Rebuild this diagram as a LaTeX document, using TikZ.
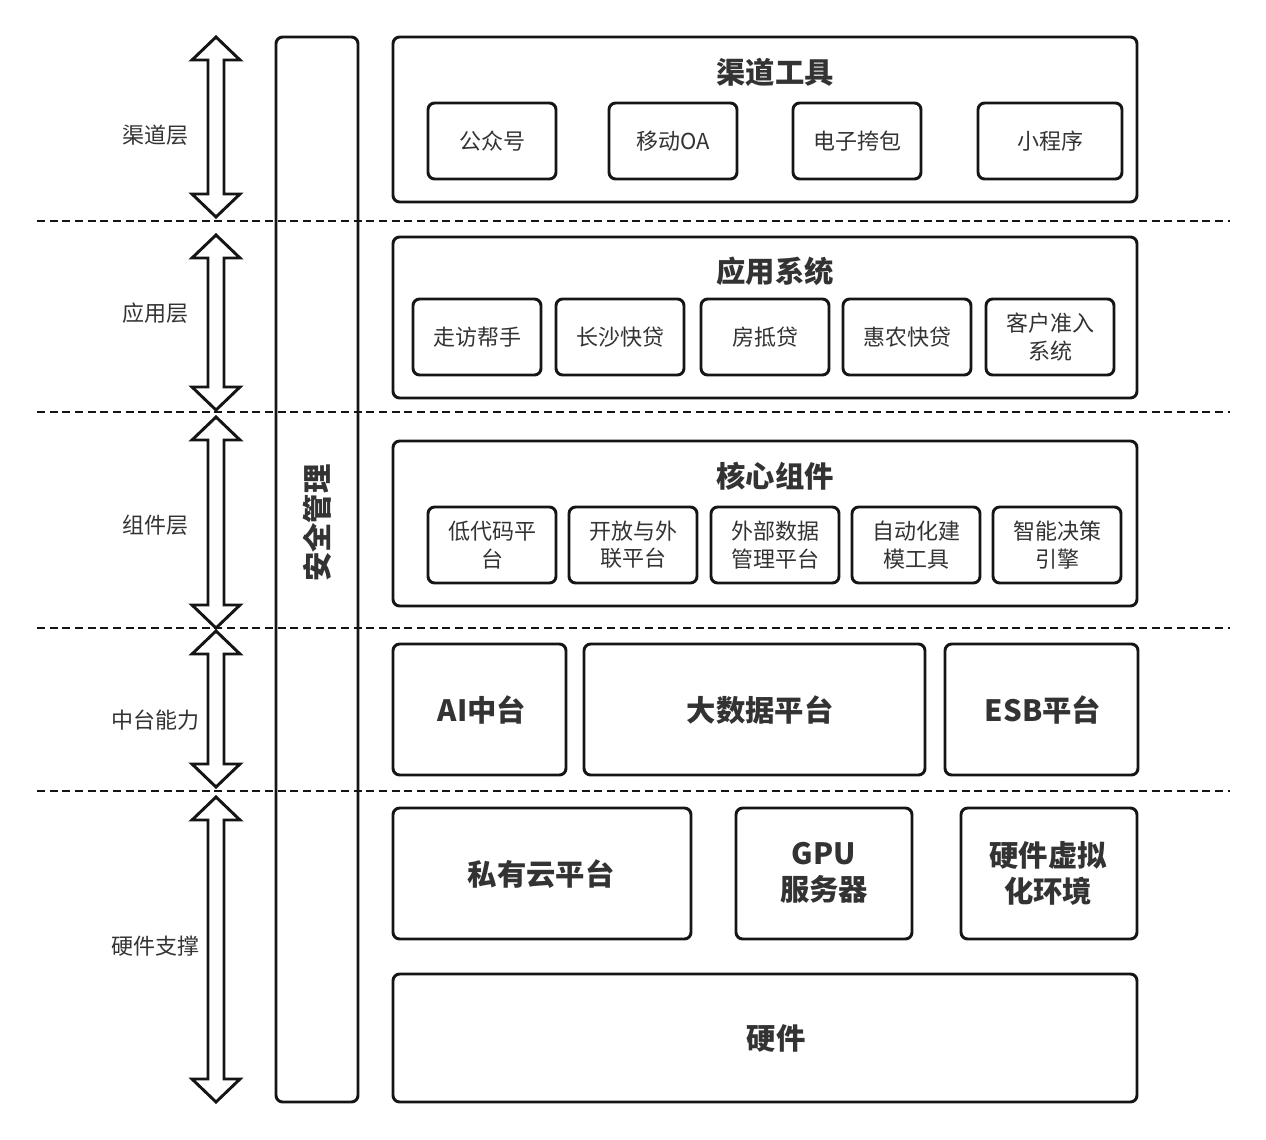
\documentclass[tikz,border=0pt]{standalone}
\usepackage{fontspec}
\setmainfont{Noto Sans CJK SC}
\usetikzlibrary{fit}
\definecolor{txt}{HTML}{333333}
\definecolor{ln}{HTML}{151515}
\newcommand\darr[3]{%
  \draw[arr] (216,#2) -- (240,#2+23) -- (224,#2+23) -- (224,#3-23) -- (240,#3-23) -- (216,#3)
    -- (192,#3-23) -- (208,#3-23) -- (208,#2+23) -- (192,#2+23) -- cycle;
  \coordinate (#1) at (216,{(#2+#3)/2});}
\begin{document}
\begin{tikzpicture}[x=0.75pt,y=-0.75pt,
  box/.style={draw=ln, line width=2.2pt, rounded corners=5pt, inner sep=0pt},
  subt/.style={text=txt, align=center, inner sep=0pt, font=\fontsize{16.5}{20.5}\selectfont},
  bigt/.style={text=txt, align=center, inner sep=0pt, font=\fontsize{22}{27}\selectfont\bfseries},
  ttl/.style={text=txt, font=\fontsize{22}{26}\selectfont\bfseries, inner sep=0pt},
  lbl/.style={text=txt, font=\fontsize{16.5}{20}\selectfont, inner sep=0pt},
  sep/.style={draw=ln, line width=1.1pt, dash pattern=on 6pt off 3.5pt},
  arr/.style={draw=ln, line width=2.2pt, fill=white, line join=miter}]
\useasboundingbox (0,0) rectangle (1266,1139);
% separators
\coordinate (s1a) at (37,221); \coordinate (s1b) at (1230,221);
\coordinate (s2a) at (37,412); \coordinate (s2b) at (1230,412);
\coordinate (s3a) at (37,628); \coordinate (s3b) at (1230,628);
\coordinate (s4a) at (37,791); \coordinate (s4b) at (1230,791);
\draw[sep] (s1a) -- (s1b);
\draw[sep] (s2a) -- (s2b);
\draw[sep] (s3a) -- (s3b);
\draw[sep] (s4a) -- (s4b);
% arrows
\darr{a1}{37}{217}
\darr{a2}{235}{410}
\darr{a3}{417}{628}
\darr{a4}{631}{787}
\darr{a5}{797}{1102}
% layer labels
\node[lbl] (l1) at (155,135) {渠道层};
\node[lbl] (l2) at (155,313) {应用层};
\node[lbl] (l3) at (155,525) {组件层};
\node[lbl] (l4) at (155,720) {中台能力};
\node[lbl] (l5) at (155,946) {硬件支撑};
% security bar
\node[box, fit={(276,37)(358,1102)}] (sec) {};
\node[ttl, rotate=90] (sect) at (317,523) {安全管理};
% channel tools
\node[box, fit={(393,37)(1137,202)}] (ch) {};
\node[ttl] (cht) at (775,72) {渠道工具};
\node[box, fit={(428,103)(556,179)}] (c1) {};
\node[box, fit={(609,103)(737,179)}] (c2) {};
\node[box, fit={(793,103)(921,179)}] (c3) {};
\node[box, fit={(978,103)(1122,179)}] (c4) {};
\node[subt] (c1t) at (c1.center) {公众号};
\node[subt] (c2t) at (c2.center) {移动OA};
\node[subt] (c3t) at (c3.center) {电子挎包};
\node[subt] (c4t) at (c4.center) {小程序};
% application systems
\node[box, fit={(393,237)(1137,398)}] (ap) {};
\node[ttl] (apt) at (775,271) {应用系统};
\node[box, fit={(413,299)(541,375)}] (p1) {};
\node[box, fit={(556,299)(684,375)}] (p2) {};
\node[box, fit={(701,299)(829,375)}] (p3) {};
\node[box, fit={(843,299)(971,375)}] (p4) {};
\node[box, fit={(986,299)(1114,375)}] (p5) {};
\node[subt] (p1t) at (p1.center) {走访帮手};
\node[subt] (p2t) at (p2.center) {长沙快贷};
\node[subt] (p3t) at (p3.center) {房抵贷};
\node[subt] (p4t) at (p4.center) {惠农快贷};
\node[subt] (p5t) at (p5.center) {客户准入\\系统};
% core components
\node[box, fit={(393,441)(1137,606)}] (co) {};
\node[ttl] (cot) at (775,476) {核心组件};
\node[box, fit={(428,507)(556,583)}] (k1) {};
\node[box, fit={(569,507)(697,583)}] (k2) {};
\node[box, fit={(711,507)(839,583)}] (k3) {};
\node[box, fit={(852,507)(980,583)}] (k4) {};
\node[box, fit={(993,507)(1121,583)}] (k5) {};
\node[subt] (k1t) at (k1.center) {低代码平\\台};
\node[subt] (k2t) at (k2.center) {开放与外\\联平台};
\node[subt] (k3t) at (k3.center) {外部数据\\管理平台};
\node[subt] (k4t) at (k4.center) {自动化建\\模工具};
\node[subt] (k5t) at (k5.center) {智能决策\\引擎};
% middle platforms
\node[box, fit={(393,644)(566,775)}] (m1) {};
\node[box, fit={(584,644)(925,775)}] (m2) {};
\node[box, fit={(945,644)(1138,775)}] (m3) {};
\node[bigt] (m1t) at (482,710) {AI中台};
\node[bigt] (m2t) at (760,710) {大数据平台};
\node[bigt] (m3t) at (1043,710) {ESB平台};
% hardware support
\node[box, fit={(393,808)(691,939)}] (h1) {};
\node[box, fit={(736,808)(912,939)}] (h2) {};
\node[box, fit={(961,808)(1137,939)}] (h3) {};
\node[box, fit={(393,974)(1137,1102)}] (h4) {};
\node[bigt] (h1t) at (541,874) {私有云平台};
\node[bigt] (h2t) at (824,873) {GPU\\服务器};
\node[bigt] (h3t) at (1048,873) {硬件虚拟\\化环境};
\node[bigt] (h4t) at (776,1038) {硬件};
\end{tikzpicture}
\end{document}
